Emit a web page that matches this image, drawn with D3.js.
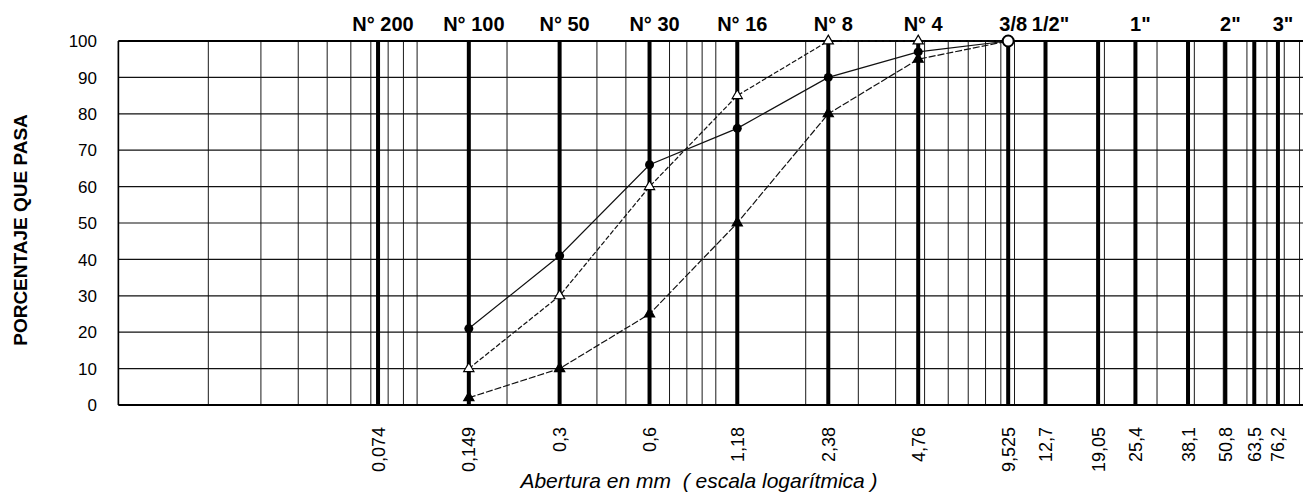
<!DOCTYPE html>
<html>
<head>
<meta charset="utf-8">
<script src="https://cdn.jsdelivr.net/npm/d3@7"></script>
<style>
  body { margin: 0; background: #fff; }
  svg { display: block; font-family: "Liberation Sans", Arial, sans-serif; }
</style>
</head>
<body>
<script>
// tamices (mm) y sus nombres
var sieveSizes  = [0.074, 0.149, 0.3, 0.6, 1.18, 2.38, 4.76, 9.525, 12.7, 19.05, 25.4, 38.1, 50.8, 63.5, 76.2];
var sieveTicks  = ["0,074", "0,149", "0,3", "0,6", "1,18", "2,38", "4,76", "9,525", "12,7", "19,05", "25,4", "38,1", "50,8", "63,5", "76,2"];
var sieveNames  = ["N° 200", "N° 100", "N° 50", "N° 30", "N° 16", "N° 8", "N° 4", "3/8", "1/2\"", "", "1\"", "", "2\"", "", "3\""];

var yTicks = [0, 10, 20, 30, 40, 50, 60, 70, 80, 90, 100];

// curvas granulometricas
var curveSizes = [0.149, 0.3, 0.6, 1.18, 2.38, 4.76, 9.525];
var muestra    = [21, 41, 66, 76, 90, 97, 100];
var limSup     = [10, 30, 60, 85, 100, 100, 100];
var limInf     = [2, 10, 25, 50, 80, 95, 100];

var W = 1303, H = 495;
var plotL = 118.4, plotT = 41, plotB = 405;

var svg = d3.select(document.body).append("svg")
  .attr("width", W).attr("height", H);

var x = d3.scaleLog().domain([0.01, 100]).range([plotL, 1313.2]);
var y = d3.scaleLinear().domain([0, 100]).range([plotB, plotT]);

// grilla logaritmica fina
svg.append("g").selectAll("line")
  .data(x.ticks())
  .enter().append("line")
  .attr("x1", function(d) { return x(d); })
  .attr("x2", function(d) { return x(d); })
  .attr("y1", plotT).attr("y2", plotB)
  .attr("stroke", "#1a1a1a").attr("stroke-width", 1);

// grilla horizontal
svg.append("g").selectAll("line")
  .data(yTicks)
  .enter().append("line")
  .attr("x1", plotL).attr("x2", W)
  .attr("y1", function(d) { return y(d); })
  .attr("y2", function(d) { return y(d); })
  .attr("stroke", "#111").attr("stroke-width", 1.2);

// lineas gruesas de tamices
svg.append("g").selectAll("line")
  .data(sieveSizes)
  .enter().append("line")
  .attr("x1", function(d) { return x(d); })
  .attr("x2", function(d) { return x(d); })
  .attr("y1", plotT).attr("y2", plotB)
  .attr("stroke", "#000").attr("stroke-width", 4);

// marco
svg.append("line").attr("x1", plotL).attr("x2", W).attr("y1", plotT).attr("y2", plotT)
  .attr("stroke", "#000").attr("stroke-width", 2);
svg.append("line").attr("x1", plotL).attr("x2", W).attr("y1", plotB).attr("y2", plotB)
  .attr("stroke", "#000").attr("stroke-width", 2);
svg.append("line").attr("x1", plotL).attr("x2", plotL).attr("y1", plotT).attr("y2", plotB)
  .attr("stroke", "#000").attr("stroke-width", 1.6);

// etiquetas eje y
svg.append("g").selectAll("text")
  .data(yTicks)
  .enter().append("text")
  .attr("x", 97)
  .attr("y", function(d) { return y(d); })
  .attr("dy", "0.36em")
  .attr("text-anchor", "end")
  .attr("font-size", 17)
  .text(function(d) { return d; });

svg.append("text")
  .attr("transform", "translate(27,230) rotate(-90)")
  .attr("text-anchor", "middle")
  .attr("font-size", 19)
  .attr("font-weight", "bold")
  .text("PORCENTAJE QUE PASA");

// nombres de tamices arriba
svg.append("g").selectAll("text")
  .data(sieveSizes)
  .enter().append("text")
  .attr("x", function(d) { return x(d) + 5; })
  .attr("y", 31)
  .attr("text-anchor", "middle")
  .attr("font-size", 20)
  .attr("font-weight", "bold")
  .text(function(d, i) { return sieveNames[i]; });

// aberturas abajo
svg.append("g").selectAll("text")
  .data(sieveSizes)
  .enter().append("text")
  .attr("transform", function(d) { return "translate(" + x(d) + ",427) rotate(-90)"; })
  .attr("dy", "0.36em")
  .attr("text-anchor", "end")
  .attr("font-size", 18)
  .text(function(d, i) { return sieveTicks[i]; });

svg.append("text")
  .attr("x", 699).attr("y", 488)
  .attr("text-anchor", "middle")
  .attr("font-size", 21)
  .attr("font-style", "italic")
  .style("white-space", "pre")
  .text("Abertura en mm  ( escala logarítmica )");

// curvas
var line = d3.line()
  .x(function(d) { return x(d[0]); })
  .y(function(d) { return y(d[1]); });

function zipCurve(vals) {
  return curveSizes.map(function(s, i) { return [s, vals[i]]; });
}

var curves = [
  { data: zipCurve(limSup), dash: "5,2", marker: "tri-open" },
  { data: zipCurve(limInf), dash: "7,2", marker: "tri" },
  { data: zipCurve(muestra), dash: null, marker: "dot" }
];

curves.forEach(function(c) {
  svg.append("path")
    .datum(c.data)
    .attr("d", line)
    .attr("fill", "none")
    .attr("stroke", "#111")
    .attr("stroke-width", 1.2)
    .attr("stroke-dasharray", c.dash);

  var pts = c.data.slice(0, c.data.length - 1);
  if (c.marker === "dot") {
    svg.append("g").selectAll("circle")
      .data(pts)
      .enter().append("circle")
      .attr("cx", function(d) { return x(d[0]); })
      .attr("cy", function(d) { return y(d[1]); })
      .attr("r", 4.5)
      .attr("fill", "#000");
  } else {
    svg.append("g").selectAll("path")
      .data(pts)
      .enter().append("path")
      .attr("transform", function(d) { return "translate(" + x(d[0]) + "," + y(d[1]) + ")"; })
      .attr("d", d3.symbol().type(d3.symbolTriangle).size(45))
      .attr("fill", c.marker === "tri" ? "#000" : "#fff")
      .attr("stroke", "#000")
      .attr("stroke-width", 1.2);
  }
});

// punto final comun
var last = curveSizes.length - 1;
svg.append("circle")
  .attr("cx", x(curveSizes[last]))
  .attr("cy", y(muestra[last]))
  .attr("r", 5.5)
  .attr("fill", "#fff")
  .attr("stroke", "#000")
  .attr("stroke-width", 2);
</script>
</body>
</html>
